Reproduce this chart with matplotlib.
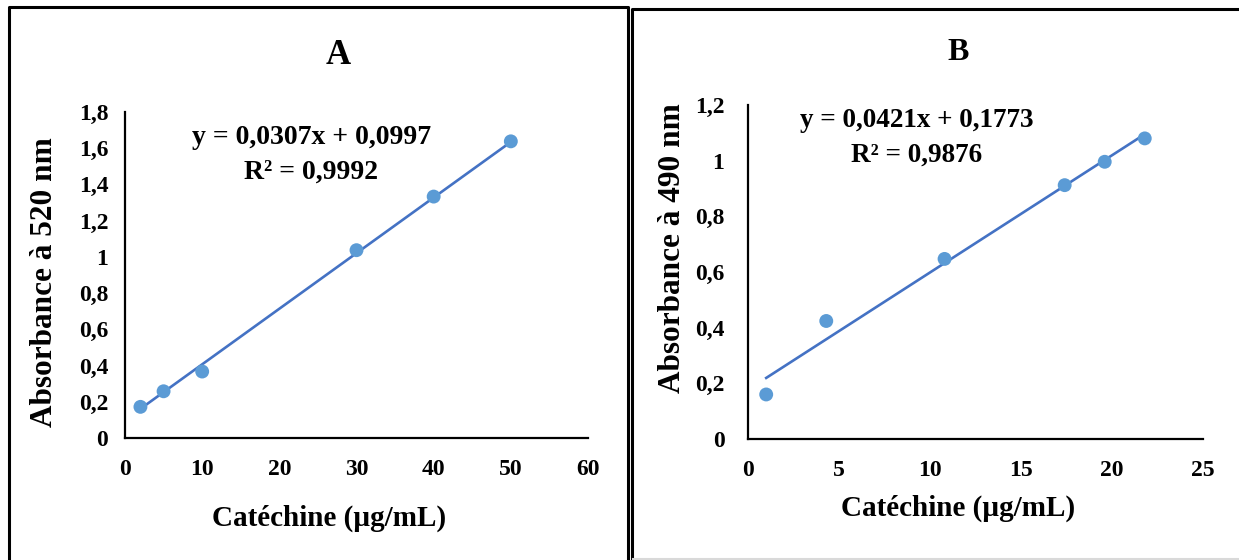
import numpy as np
import matplotlib.pyplot as plt
from matplotlib.lines import Line2D
from matplotlib.ticker import FuncFormatter, MultipleLocator

plt.rcParams['font.family'] = ['Liberation Serif', 'DejaVu Serif']
plt.rcParams['font.weight'] = 'bold'

# Panel A: condensed tannins (vanillin, 520 nm)
conc_a = [2, 5, 10, 30, 40, 50]
abs_a = [0.172, 0.258, 0.367, 1.037, 1.333, 1.638]
slope_a, icpt_a, r2_a = 0.0307, 0.0997, 0.9992

# Panel B: flavonoids (490 nm)
conc_b = [1.0, 4.3, 10.8, 17.4, 19.6, 21.8]
abs_b = [0.160, 0.424, 0.647, 0.912, 0.996, 1.080]
slope_b, icpt_b, r2_b = 0.0421, 0.1773, 0.9876

W, H = 1239, 560
fig = plt.figure(figsize=(W / 100, H / 100), dpi=100)

POINT = '#5B9BD5'
LINE = '#4472C4'


def comma(v, pos):
    s = f"{v:.1f}".rstrip('0').rstrip('.')
    return s.replace('.', ',')


def px_axes(left, top, right, bottom):
    return fig.add_axes([left / W, 1 - bottom / H, (right - left) / W, (bottom - top) / H])


def panel(ax, x, y, slope, icpt, r2, xmax, xstep, ymax, ypad, eq_pos, eq_size):
    ax.scatter(x, y, s=100, color=POINT, zorder=3, edgecolors='none')
    xs = np.array([min(x), max(x)])
    ax.plot(xs, slope * xs + icpt, color=LINE, lw=1.9, zorder=2)
    ax.set_xlim(0, xmax)
    ax.set_ylim(0, ymax)
    ax.xaxis.set_major_locator(MultipleLocator(xstep))
    ax.yaxis.set_major_locator(MultipleLocator(0.2))
    ax.yaxis.set_major_formatter(FuncFormatter(comma))
    for s in ('top', 'right'):
        ax.spines[s].set_visible(False)
    for s in ('left', 'bottom'):
        ax.spines[s].set_linewidth(1.6)
    ax.tick_params(axis='x', length=0, pad=15, labelsize=17)
    ax.tick_params(axis='y', length=0, pad=ypad, labelsize=17)
    eq = f"y = {slope:.4f}x + {icpt:.4f}".replace('.', ',')
    ax.text(eq_pos[0], eq_pos[1], eq, transform=ax.transAxes, ha='center', va='center',
            fontsize=eq_size, fontweight='bold')
    ax.text(eq_pos[0], eq_pos[2], f"R² = {r2:.4f}".replace('.', ','), transform=ax.transAxes,
            ha='center', va='center', fontsize=eq_size, fontweight='bold')


ax_a = px_axes(125, 112, 588, 438)
panel(ax_a, conc_a, abs_a, slope_a, icpt_a, r2_a, 60, 10, 1.8, 12, (0.402, 0.923, 0.816), 20)
ax_b = px_axes(748, 105, 1203, 439)
panel(ax_b, conc_b, abs_b, slope_b, icpt_b, r2_b, 25, 5, 1.2, 17, (0.371, 0.955, 0.850), 19.5)

# panel titles and axis labels
fig.text(338 / W, 1 - 55 / H, 'A', ha='center', va='center', fontsize=25, fontweight='bold')
fig.text(958 / W, 1 - 52 / H, 'B', ha='center', va='center', fontsize=23, fontweight='bold')
fig.text(329 / W, 1 - 518 / H, 'Catéchine (µg/mL)', ha='center', va='center', fontsize=21)
fig.text(958 / W, 1 - 508 / H, 'Catéchine (µg/mL)', ha='center', va='center', fontsize=21)
fig.text(45 / W, 1 - 282 / H, 'Absorbance à 520 nm', rotation=90, ha='center', va='center', fontsize=22.5)
fig.text(672 / W, 1 - 248 / H, 'Absorbance à 490 nm', rotation=90, ha='center', va='center', fontsize=22.5)


# frames around each panel
def frame(xs, ys, color='black', lw=2.2):
    fig.add_artist(Line2D([v / W for v in xs], [1 - v / H for v in ys], color=color, lw=lw,
                          transform=fig.transFigure, solid_capstyle='projecting'))


frame([9, 9, 628, 628], [562, 7, 7, 562])
frame([632, 632, 1241], [562, 9, 9])
frame([633, 1241], [559, 559], color='#d9d9d9', lw=1.5)

fig.savefig('out.png', dpi=100)
